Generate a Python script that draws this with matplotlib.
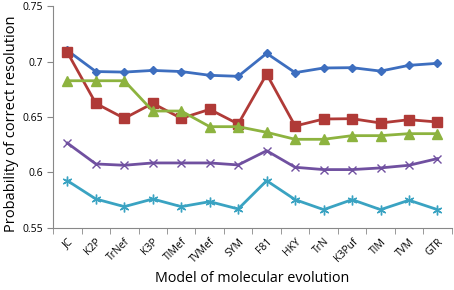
import matplotlib
matplotlib.use('Agg')
import matplotlib.pyplot as plt
import numpy as np

models = ['JC', 'K2P', 'TrNef', 'K3P', 'TIMef', 'TVMef', 'SYM', 'F81',
          'HKY', 'TrN', 'K3Puf', 'TIM', 'TVM', 'GTR']
blue = [0.710, 0.691, 0.6905, 0.692, 0.691, 0.6876, 0.6867, 0.7074,
        0.690, 0.6942, 0.6945, 0.6914, 0.6966, 0.6984]
red = [0.7083, 0.6623, 0.6488, 0.6623, 0.6488, 0.6569, 0.6437, 0.6887,
       0.6419, 0.6482, 0.6485, 0.6446, 0.6476, 0.6455]
green = [0.6827, 0.6827, 0.6827, 0.6554, 0.6554, 0.6413, 0.6413, 0.6362,
         0.6299, 0.6299, 0.6332, 0.6332, 0.635, 0.635]
purple = [0.6265, 0.6077, 0.6065, 0.6086, 0.6086, 0.6086, 0.6068, 0.6196,
          0.6047, 0.6026, 0.6026, 0.6041, 0.6065, 0.6125]
cyan = [0.5926, 0.5761, 0.5692, 0.5761, 0.5692, 0.5737, 0.5671, 0.5926,
        0.5755, 0.5665, 0.5755, 0.5665, 0.575, 0.5665]

plt.rcParams['font.family'] = ['Open Sans', 'DejaVu Sans']

fig = plt.figure(figsize=(4.54, 2.90), dpi=100)
ax = fig.add_axes([0.117, 0.214, 0.878, 0.765])
x = np.arange(len(models))

ax.plot(x, blue, color='#3d6ebf', lw=2, marker='D', ms=4.5)
ax.plot(x, red, color='#b03a37', lw=2, marker='s', ms=7)
ax.plot(x, green, color='#8db33f', lw=2, marker='^', ms=7)
ax.plot(x, purple, color='#7050a0', lw=2, marker='x', ms=6, mew=1)
ax.plot(x, cyan, color='#3aa3c2', lw=2, marker=(6, 2, 0), ms=7, mew=1)

ax.set_xlim(-0.5, len(models) - 0.5)
ax.set_ylim(0.55, 0.75)
ax.set_yticks([0.55, 0.6, 0.65, 0.7, 0.75])
ax.set_yticklabels(['0.55', '0.6', '0.65', '0.7', '0.75'])
ax.set_xticks(x)
ax.set_xticklabels(models, rotation=45, ha='right', va='top',
                   rotation_mode='anchor')
ax.set_xticks(np.arange(-0.5, len(models)), minor=True)
ax.tick_params(axis='x', which='major', length=0, labelsize=7.5, pad=6)
ax.tick_params(axis='x', which='minor', length=4, color='#888888')
ax.tick_params(axis='y', length=4, color='#888888', labelsize=7.5)

for s in ['top', 'right']:
    ax.spines[s].set_visible(False)
for s in ['left', 'bottom']:
    ax.spines[s].set_color('#888888')

ax.set_xlabel('Model of molecular evolution', fontsize=10.3)
ax.set_ylabel('Probability of correct resolution', fontsize=10.5)
ax.yaxis.set_label_coords(-0.085, 0.47)

fig.savefig('out.png', dpi=100)
